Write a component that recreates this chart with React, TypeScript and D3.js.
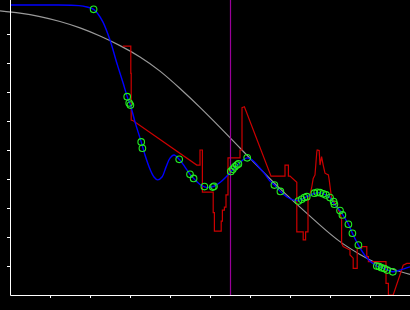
import React, { useEffect, useRef } from "react";
import * as d3 from "d3";

const W = 410;
const H = 310;

const X_TICKS = [1, 2, 3, 4, 5, 6, 7, 8, 9];
const Y_TICKS = [1, 2, 3, 4, 5, 6, 7, 8, 9];
const MARKER_X = 5.5125;

// smooth fitted curve (blue)
const fitX = [0, 1, 1.725, 1.925, 2.09, 2.2, 2.325, 2.5, 2.67, 2.83, 2.93, 3.01, 3.125, 3.28, 3.375, 3.5, 3.6, 3.69, 3.8, 3.9, 4.0, 4.1, 4.23, 4.375, 4.5, 4.625, 4.75, 4.86, 4.975, 5.1, 5.25, 5.4, 5.525, 5.71, 5.825, 5.93, 6.05, 6.2, 6.35, 6.5, 6.61, 6.76, 6.925, 7.075, 7.21, 7.42, 7.6, 7.75, 7.9, 8.0, 8.1, 8.25, 8.46, 8.56, 8.71, 8.875, 9.025, 9.175, 9.36, 9.57, 9.75, 10.0];
const fitY = [10.0, 10.0, 9.98, 9.93, 9.85, 9.69, 9.41, 8.79, 8.0, 7.3, 6.84, 6.55, 5.97, 5.28, 4.83, 4.34, 4.07, 3.97, 4.07, 4.41, 4.72, 4.83, 4.68, 4.41, 4.16, 3.97, 3.81, 3.73, 3.71, 3.75, 3.88, 4.07, 4.26, 4.52, 4.66, 4.73, 4.66, 4.45, 4.21, 3.93, 3.79, 3.57, 3.38, 3.28, 3.26, 3.39, 3.5, 3.53, 3.45, 3.36, 3.14, 2.91, 2.44, 2.13, 1.72, 1.36, 1.14, 1.0, 0.91, 0.8, 0.86, 0.97];

// observations (green circles)
const obsX = [2.09, 2.93, 2.98, 3.01, 3.28, 3.31, 4.23, 4.5, 4.59, 4.86, 5.07, 5.1, 5.52, 5.57, 5.62, 5.67, 5.71, 5.93, 6.61, 6.76, 7.21, 7.29, 7.36, 7.42, 7.61, 7.68, 7.75, 7.83, 7.9, 8.0, 8.09, 8.11, 8.25, 8.31, 8.46, 8.56, 8.71, 9.17, 9.23, 9.29, 9.36, 9.43, 9.57];
const obsY = [9.85, 6.84, 6.62, 6.55, 5.28, 5.06, 4.68, 4.16, 4.02, 3.74, 3.72, 3.75, 4.26, 4.34, 4.42, 4.48, 4.52, 4.73, 3.79, 3.57, 3.24, 3.3, 3.36, 3.39, 3.51, 3.54, 3.53, 3.49, 3.45, 3.36, 3.22, 3.13, 2.91, 2.76, 2.44, 2.13, 1.72, 1.0, 0.98, 0.94, 0.91, 0.86, 0.8];

// broad trend (grey)
const trendX = [-0.25, 0.25, 0.75, 1.25, 1.75, 2.25, 2.75, 3.25, 3.75, 4.25, 4.75, 5.25, 5.75, 6.25, 6.75, 7.25, 7.75, 8.25, 8.75, 9.25, 9.75, 10.0];
const trendY = [9.8, 9.72, 9.6, 9.43, 9.21, 8.93, 8.6, 8.21, 7.72, 7.12, 6.47, 5.78, 5.07, 4.36, 3.67, 3.03, 2.41, 1.84, 1.4, 1.05, 0.81, 0.71];

// raw signal (red)
const rawX = [2.82, 3.02, 3.02, 3.03, 3.03, 3.08, 4.67, 4.75, 4.75, 4.81, 4.81, 5.08, 5.08, 5.11, 5.11, 5.28, 5.28, 5.31, 5.31, 5.36, 5.36, 5.4, 5.4, 5.45, 5.45, 5.75, 5.75, 5.8, 5.8, 5.86, 6.525, 6.875, 6.875, 6.96, 6.96, 7.0, 7.17, 7.17, 7.33, 7.33, 7.39, 7.39, 7.45, 7.45, 7.54, 7.58, 7.625, 7.67, 7.68, 7.73, 7.75, 7.79, 7.83, 7.875, 7.96, 7.98, 8.04, 8.125, 8.25, 8.29, 8.29, 8.33, 8.5, 8.5, 8.58, 8.58, 8.68, 8.68, 8.79, 8.79, 8.92, 8.92, 8.96, 8.96, 9.4, 9.4, 9.46, 9.46, 9.58, 9.79, 9.83, 9.92, 10.0];
const rawY = [8.58, 8.58, 7.64, 7.64, 6.03, 6.01, 4.48, 4.48, 5.0, 5.0, 3.55, 3.55, 2.84, 2.84, 2.2, 2.2, 2.55, 2.55, 2.93, 2.93, 3.03, 3.03, 3.45, 3.45, 4.73, 4.73, 5.0, 5.0, 6.46, 6.49, 4.1, 4.1, 4.48, 4.48, 4.1, 4.1, 3.89, 2.18, 2.18, 1.9, 1.9, 2.18, 2.18, 3.22, 3.69, 4.02, 4.14, 4.94, 5.0, 4.98, 4.48, 4.77, 4.48, 4.2, 4.14, 3.97, 3.33, 3.17, 2.82, 2.59, 1.78, 1.67, 1.55, 1.38, 1.27, 0.92, 0.92, 1.61, 1.61, 1.67, 1.67, 1.32, 1.32, 1.15, 1.15, 0.4, 0.4, 0, 0, 0.86, 1.03, 1.09, 1.09];

type P = [number, number];
const zip = (xs: number[], ys: number[]): P[] => xs.map((x, i) => [x, ys[i]]);

export default function App() {
  const xAxisRef = useRef<SVGGElement>(null);
  const yAxisRef = useRef<SVGGElement>(null);

  const x = d3.scaleLinear().domain([0, 10]).range([10, 410]);
  const y = d3.scaleLinear().domain([0, 10]).range([295, 5]);

  useEffect(() => {
    if (xAxisRef.current) {
      const g = d3.select(xAxisRef.current);
      g.call(
        d3.axisBottom(x).tickValues(X_TICKS).tickSize(3).tickSizeOuter(0).tickFormat(() => "")
      );
      g.selectAll("path,line").attr("stroke", "#fff").attr("stroke-width", 1);
    }
    if (yAxisRef.current) {
      const g = d3.select(yAxisRef.current);
      g.call(
        d3.axisLeft(y).tickValues(Y_TICKS).tickSize(3).tickSizeOuter(0).tickFormat(() => "")
      );
      g.select(".domain").attr("d", `M0.5,0V${y(0) + 0.5}`);
      g.selectAll("path,line").attr("stroke", "#fff").attr("stroke-width", 1);
    }
  });

  const lineLinear = d3.line<P>().x((d) => x(d[0])).y((d) => y(d[1])).curve(d3.curveLinear);
  const lineSmooth = d3.line<P>().x((d) => x(d[0])).y((d) => y(d[1])).curve(d3.curveCatmullRom.alpha(0.5));
  const lineTrend = d3.line<P>().x((d) => x(d[0])).y((d) => y(d[1])).curve(d3.curveNatural);

  const obs = zip(obsX, obsY);

  return (
    <svg
      width={W}
      height={H}
      style={{ position: "fixed", left: 0, top: 0, display: "block", background: "#000" }}
    >
      <rect x={0} y={0} width={W} height={H} fill="#000" />
      <path d={lineTrend(zip(trendX, trendY)) || ""} fill="none" stroke="#9a9a9a" strokeWidth={1.2} />
      <path d={lineLinear(zip(rawX, rawY)) || ""} fill="none" stroke="#cc0000" strokeWidth={1.2} />
      <path d={lineSmooth(zip(fitX, fitY)) || ""} fill="none" stroke="#0000ff" strokeWidth={1.4} />
      <line
        x1={x(MARKER_X)}
        x2={x(MARKER_X)}
        y1={0}
        y2={y(0)}
        stroke="#990099"
        strokeWidth={1.2}
      />
      <g ref={xAxisRef} transform={`translate(0,${y(0)})`} />
      <g ref={yAxisRef} transform={`translate(${x(0)},0)`} />
      {obs.map((d, i) => (
        <circle
          key={i}
          cx={x(d[0])}
          cy={y(d[1])}
          r={3.3}
          fill="none"
          stroke="#22ee22"
          strokeWidth={1.1}
        />
      ))}
    </svg>
  );
}
